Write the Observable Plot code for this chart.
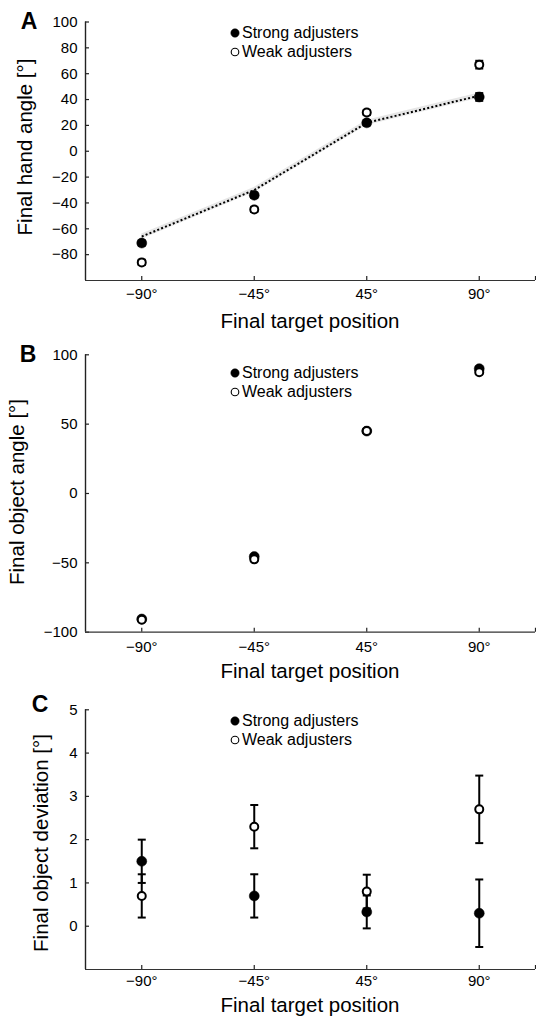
<!DOCTYPE html>
<html>
<head>
<meta charset="utf-8">
<script src="https://cdn.jsdelivr.net/npm/d3@7"></script>
<script src="https://cdn.jsdelivr.net/npm/@observablehq/plot@0.6"></script>
<style>
  html, body { margin: 0; padding: 0; background: #fff; }
  #root { position: relative; width: 536px; height: 1017px; font-family: "Liberation Sans", Arial, sans-serif; color: #000; overflow: hidden; }
  .abs { position: absolute; }
  .ytitle { position: absolute; font-size: 20.5px; white-space: nowrap; transform: translate(-50%, -50%) rotate(-90deg); }
  .xtitle { position: absolute; font-size: 20.5px; white-space: nowrap; transform: translate(-50%, -50%); line-height: 1; }
  .plabel { position: absolute; font-size: 23px; font-weight: bold; transform: translate(-50%, -50%); line-height: 1; }
  .legrow { position: absolute; display: flex; align-items: center; height: 20px; font-size: 16px; white-space: nowrap; }
  .legrow svg { margin-right: 1px; }
</style>
</head>
<body>
<div id="root"></div>
<script>
// ---------- data ----------
const positions = [1, 2, 3, 4];
const targetLabels = ["−90°", "−45°", "45°", "90°"];
const seriesNames = ["Strong adjusters", "Weak adjusters"];

// Panel A: final hand angle
const handStrong = [-71, -34, 22, 42];
const handStrongErr = [2, 2, 2, 3];
const handWeak = [-86, -45, 30, 67];
const handWeakErr = [2, 2, 2, 3];
const handFit = [-66, -30, 22, 43];
const handFitLo = [-68, -32, 20, 41];
const handFitHi = [-64, -28, 24, 45];
const handTicks = [-80, -60, -40, -20, 0, 20, 40, 60, 80, 100];

// Panel B: final object angle
const objStrong = [-90.5, -45.5, 45, 90];
const objStrongErr = [1, 1, 1, 1];
const objWeak = [-91, -47.5, 45, 87.5];
const objWeakErr = [1, 1, 1, 1];
const objTicks = [-100, -50, 0, 50, 100];

// Panel C: final object deviation
const devStrong = [1.5, 0.7, 0.33, 0.3];
const devStrongErr = [0.5, 0.5, 0.38, 0.78];
const devWeak = [0.7, 2.3, 0.8, 2.7];
const devWeakErr = [0.5, 0.5, 0.39, 0.78];
const devTicks = [0, 1, 2, 3, 4, 5];

// ---------- helpers ----------
const FONT = '"Liberation Sans", Arial, sans-serif';
const fmt = d3.format("");
const capSymbol = {
  draw(ctx, size) {
    const r = Math.sqrt(size / Math.PI);
    ctx.moveTo(-r, 0);
    ctx.lineTo(r, 0);
  }
};
const rows = (vals, errs) => positions.map((p, i) => ({x: p, y: vals[i], lo: vals[i] - errs[i], hi: vals[i] + errs[i]}));

function errMarks(data) {
  return [
    Plot.ruleX(data, {x: "x", y1: "lo", y2: "hi", stroke: "#000", strokeWidth: 2}),
    Plot.dot(data, {x: "x", y: "lo", symbol: capSymbol, r: 4, stroke: "#000", strokeWidth: 2, fill: "none"}),
    Plot.dot(data, {x: "x", y: "hi", symbol: capSymbol, r: 4, stroke: "#000", strokeWidth: 2, fill: "none"})
  ];
}

function panel({top, height, marginTop, xPad, yDomain, yTicks, strong, strongErr, weak, weakErr, extra = []}) {
  const s = rows(strong, strongErr);
  const w = rows(weak, weakErr);
  const svg = Plot.plot({
    width: 536,
    height,
    marginLeft: 85,
    marginRight: 1,
    marginTop,
    marginBottom: 30,
    x: {domain: [0.5, 4.5]},
    y: {domain: yDomain},
    style: {fontFamily: FONT, fontSize: "15px", color: "#000", background: "transparent", overflow: "visible"},
    marks: [
      ...extra,
      Plot.axisY({ticks: yTicks, tickSize: 0, tickPadding: 8, tickFormat: fmt, label: null, fontSize: 15}),
      Plot.axisY({ticks: yTicks, tickSize: 4, dx: 4, tickFormat: () => "", label: null, stroke: "#222", strokeWidth: 1.2}),
      Plot.axisX({ticks: positions, tickSize: 0, tickPadding: xPad, tickFormat: (d) => targetLabels[d - 1], label: null, fontSize: 15}),
      Plot.axisX({ticks: [...positions, 4.5], tickSize: 4, dy: -4, tickFormat: () => "", label: null, stroke: "#222", strokeWidth: 1.2}),
      Plot.ruleX([0.5], {stroke: "#222", strokeWidth: 1.4}),
      Plot.ruleY([yDomain[0]], {stroke: "#333", strokeWidth: 1.2}),
      ...errMarks(s),
      ...errMarks(w),
      Plot.dot(s, {x: "x", y: "y", r: 5, fill: "#000", stroke: "#000", strokeWidth: 0.5}),
      Plot.dot(w, {x: "x", y: "y", r: 4, fill: "#fff", stroke: "#000", strokeWidth: 2})
    ]
  });
  const holder = document.createElement("div");
  holder.className = "abs";
  holder.style.left = "0px";
  holder.style.top = top + "px";
  holder.appendChild(svg);
  return holder;
}

const root = document.getElementById("root");

function addText(cls, text, x, y) {
  const d = document.createElement("div");
  d.className = cls;
  d.textContent = text;
  d.style.left = x + "px";
  d.style.top = y + "px";
  root.appendChild(d);
}

function addLegend(cy1, cy2) {
  const defs = [
    {name: seriesNames[0], cy: cy1, fill: "#000", sw: 0.5, r: 4.2},
    {name: seriesNames[1], cy: cy2, fill: "#fff", sw: 1.1, r: 3.8}
  ];
  for (const d of defs) {
    const row = document.createElement("div");
    row.className = "legrow";
    row.style.left = "229px";
    row.style.top = (d.cy - 10) + "px";
    row.innerHTML = `<svg width="12" height="12"><circle cx="6" cy="6" r="${d.r}" fill="${d.fill}" stroke="#000" stroke-width="${d.sw}"/></svg><span>${d.name}</span>`;
    root.appendChild(row);
  }
}

// ---------- Panel A ----------
const fit = positions.map((p, i) => ({x: p, y: handFit[i], lo: handFitLo[i], hi: handFitHi[i]}));
root.appendChild(panel({
  top: 0, height: 310, marginTop: 21.5, xPad: 8,
  yDomain: [-100, 100], yTicks: handTicks,
  strong: handStrong, strongErr: handStrongErr, weak: handWeak, weakErr: handWeakErr,
  extra: [
    Plot.areaY(fit, {x: "x", y1: "lo", y2: "hi", fill: "#e6e6e6"}),
    Plot.line(fit, {x: "x", y: "y", stroke: "#000", strokeWidth: 2, strokeDasharray: "2,2.2", strokeLinecap: "butt"})
  ]
}));
addText("plabel", "A", 29, 21);
addText("ytitle", "Final hand angle [°]", 25, 147);
addText("xtitle", "Final target position", 310, 321);
addLegend(33, 52);

// ---------- Panel B ----------
root.appendChild(panel({
  top: 335, height: 326.7, marginTop: 19.3, xPad: 9,
  yDomain: [-100, 100], yTicks: objTicks,
  strong: objStrong, strongErr: objStrongErr, weak: objWeak, weakErr: objWeakErr
}));
addText("plabel", "B", 28, 354);
addText("ytitle", "Final object angle [°]", 17, 492);
addText("xtitle", "Final target position", 310, 671);
addLegend(372.7, 392.3);

// ---------- Panel C ----------
root.appendChild(panel({
  top: 680, height: 319, marginTop: 29.3, xPad: 6,
  yDomain: [-1, 5], yTicks: devTicks,
  strong: devStrong, strongErr: devStrongErr, weak: devWeak, weakErr: devWeakErr
}));
addText("plabel", "C", 40, 704);
addText("ytitle", "Final object deviation [°]", 41, 843);
addText("xtitle", "Final target position", 310, 1005);
addLegend(720.7, 740);
</script>
</body>
</html>
